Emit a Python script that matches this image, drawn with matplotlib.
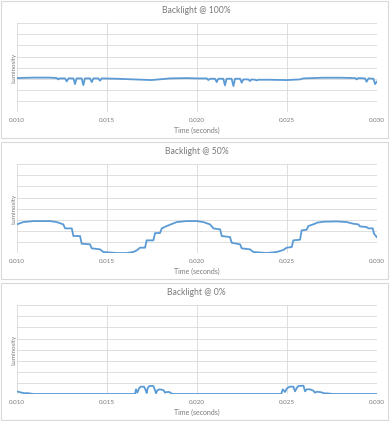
import numpy as np
import matplotlib.pyplot as plt
from matplotlib.patches import Rectangle

# Backlight @ 100%
t_100 = [0.01000, 0.01093, 0.01185, 0.01222, 0.01231, 0.01237, 0.01268, 0.01278, 0.01287,
         0.01315, 0.01324, 0.01333, 0.01361, 0.01370, 0.01379, 0.01407, 0.01417, 0.01426,
         0.01454, 0.01463, 0.01472, 0.01556, 0.01650, 0.01750, 0.01850, 0.01944, 0.02000,
         0.02056, 0.02065, 0.02074, 0.02102, 0.02111, 0.02120, 0.02148, 0.02157, 0.02166,
         0.02194, 0.02204, 0.02213, 0.02241, 0.02250, 0.02259, 0.02287, 0.02296, 0.02305,
         0.02324, 0.02333, 0.02342, 0.02400, 0.02500, 0.02574, 0.02593, 0.02700, 0.02800,
         0.02880, 0.02889, 0.02898, 0.02935, 0.02944, 0.02954, 0.02982, 0.02991, 0.03000]
v_100 = [3.06, 3.10, 3.10, 3.06, 2.94, 3.03, 3.03, 2.76, 3.03,
         3.03, 2.52, 3.03, 3.03, 2.43, 3.03, 3.03, 2.70, 3.03,
         3.03, 2.82, 3.03, 3.00, 2.94, 2.88, 3.03, 3.06, 3.03,
         3.03, 2.88, 3.00, 3.00, 2.70, 3.00, 3.00, 2.40, 3.00,
         3.00, 2.34, 3.00, 3.00, 2.64, 2.94, 2.94, 2.79, 2.94,
         2.91, 2.85, 2.91, 2.91, 2.88, 2.94, 3.03, 3.09, 3.09,
         3.06, 2.94, 3.06, 3.03, 2.73, 3.03, 3.00, 2.52, 2.73]

# Backlight @ 50%
t_50 = [0.01000, 0.01037, 0.01093, 0.01185, 0.01222, 0.01259, 0.01269, 0.01306, 0.01315,
        0.01352, 0.01361, 0.01407, 0.01417, 0.01463, 0.01481, 0.01556, 0.01611, 0.01648,
        0.01667, 0.01685, 0.01713, 0.01722, 0.01759, 0.01769, 0.01796, 0.01806, 0.01833,
        0.01889, 0.01944, 0.02000, 0.02037, 0.02074, 0.02093, 0.02130, 0.02139, 0.02185,
        0.02194, 0.02241, 0.02250, 0.02296, 0.02315, 0.02389, 0.02444, 0.02463, 0.02481,
        0.02500, 0.02528, 0.02537, 0.02574, 0.02583, 0.02611, 0.02620, 0.02657, 0.02667,
        0.02704, 0.02778, 0.02833, 0.02870, 0.02898, 0.02907, 0.02944, 0.02954, 0.02978,
        0.02985, 0.03000]
v_50 = [2.58, 2.79, 2.88, 2.88, 2.79, 2.58, 2.22, 2.22, 1.53,
        1.53, 0.84, 0.78, 0.42, 0.33, 0.09, 0.00, 0.00, 0.09,
        0.24, 0.48, 0.48, 1.14, 1.14, 1.80, 1.80, 2.22, 2.43,
        2.79, 2.88, 2.88, 2.79, 2.58, 2.22, 2.13, 1.53, 1.44,
        0.93, 0.78, 0.42, 0.33, 0.09, 0.00, 0.09, 0.18, 0.27,
        0.48, 0.54, 1.14, 1.20, 2.04, 2.10, 2.43, 2.64, 2.73,
        2.82, 2.85, 2.79, 2.64, 2.58, 2.40, 2.34, 2.22, 2.22,
        1.74, 1.44]

# Backlight @ 0%
t_0 = [0.01000, 0.01028, 0.01046, 0.01056, 0.01093, 0.01500, 0.01657, 0.01663, 0.01670,
       0.01681, 0.01689, 0.01707, 0.01717, 0.01722, 0.01728, 0.01737, 0.01759, 0.01769,
       0.01774, 0.01781, 0.01793, 0.01815, 0.01824, 0.01833, 0.01848, 0.01861, 0.01880,
       0.02000, 0.02470, 0.02478, 0.02491, 0.02500, 0.02515, 0.02537, 0.02546, 0.02556,
       0.02565, 0.02593, 0.02602, 0.02611, 0.02630, 0.02648, 0.02657, 0.02667, 0.02694,
       0.02707, 0.02722, 0.02759, 0.03000]
v_0 = [0.24, 0.12, 0.06, 0.09, 0.00, 0.00, 0.00, 0.42, 0.12,
       0.54, 0.66, 0.66, 0.33, 0.09, 0.54, 0.72, 0.72, 0.33,
       0.06, 0.33, 0.42, 0.36, 0.12, 0.18, 0.18, 0.03, 0.00,
       0.00, 0.00, 0.42, 0.18, 0.48, 0.66, 0.66, 0.24, 0.54,
       0.72, 0.75, 0.24, 0.42, 0.42, 0.30, 0.12, 0.21, 0.15,
       0.06, 0.06, 0.00, 0.00]

titles = ['Backlight @ 100%', 'Backlight @ 50%', 'Backlight @ 0%']
series = [(t_100, v_100), (t_50, v_50), (t_0, v_0)]
x_ticks = [0.010, 0.015, 0.020, 0.025, 0.030]

plt.rcParams['font.family'] = ['Lato', 'DejaVu Sans']
W, H = 390, 421
fig = plt.figure(figsize=(W / 100, H / 100), dpi=100)

text_grey = '#7a7a7a'
grid_grey = '#d9d9d9'
line_blue = '#5b9bd5'

for i, (title, (t, v)) in enumerate(zip(titles, series)):
    top = i * 141
    # panel border
    fig.patches.append(Rectangle((1 / W, 1 - (top + 138) / H), (W - 3) / W, 137 / H,
                                 transform=fig.transFigure, fill=False,
                                 edgecolor=grid_grey, linewidth=0.8))
    ax = fig.add_axes([16.7 / W, 1 - (top + 112) / H, 360 / W, 88.7 / H])
    ax.plot(t, v, color=line_blue, linewidth=1.3)
    ax.set_xlim(0.010, 0.030)
    ax.set_ylim(0, 8)
    ax.set_xticks(x_ticks)
    ax.set_xticklabels([f'{x:.3f}' for x in x_ticks])
    ax.set_yticks(np.arange(0, 9, 1))
    ax.set_yticklabels([])
    ax.tick_params(length=0, labelsize=4.5, labelcolor=text_grey, pad=4)
    ax.grid(True, color=grid_grey, linewidth=0.6)
    for s in ax.spines.values():
        s.set_visible(False)
    ax.set_xlabel('Time (seconds)', fontsize=5, color=text_grey, labelpad=3)
    ax.set_ylabel('Luminosity', fontsize=4.5, color=text_grey)
    ax.yaxis.set_label_coords(-0.002, 0.5)
    ax.set_title(title, fontsize=6.2, color=text_grey, pad=7.5)

fig.savefig('out.png', dpi=100)
